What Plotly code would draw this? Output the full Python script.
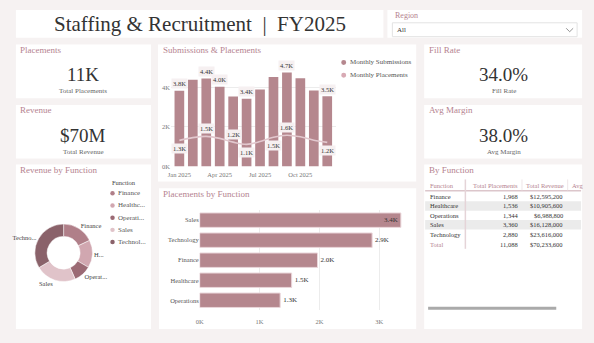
import plotly.graph_objects as go

W, H = 594, 343
FONT = "Liberation Serif"
PINK = "#b5838f"
DARK = "#333333"
GREY = "#666666"
BAR = "#b5878e"

# ---------------- data ----------------
months = ["Jan 2025", "Feb 2025", "Mar 2025", "Apr 2025", "May 2025", "Jun 2025",
          "Jul 2025", "Aug 2025", "Sep 2025", "Oct 2025", "Nov 2025", "Dec 2025"]
submissions = [3820, 4380, 4440, 4020, 3530, 3420, 3880, 4520, 4740, 4450, 3830, 3540]
placements_monthly = [1320, 1460, 1520, 1420, 1230, 1120, 1260, 1480, 1580, 1500, 1330, 1220]
sub_label_months = ["Jan 2025", "Mar 2025", "Apr 2025", "Jun 2025", "Sep 2025", "Dec 2025"]
plc_label_months = ["Jan 2025", "Mar 2025", "May 2025", "Jun 2025", "Aug 2025", "Sep 2025", "Dec 2025"]
plc_label_side = [-1, 1, 1, -1, -1, 1, -1]
month_ticks = ["Jan 2025", "Apr 2025", "Jul 2025", "Oct 2025"]

functions = ["Finance", "Healthcare", "Operations", "Sales", "Technology"]
fn_placements = [1968, 1536, 1344, 3360, 2880]
fn_revenue = [12595200, 10905600, 6988800, 16128000, 23616000]
pie_short = ["Finance", "H...", "Operat...", "Sales", "Techno..."]
legend_short = ["Finance", "Healthc...", "Operati...", "Sales", "Technol..."]
pie_colors = ["#b07f89", "#d1a7b0", "#9b6a74", "#e0c3c9", "#8a626a"]

bar_order = ["Sales", "Technology", "Finance", "Healthcare", "Operations"]

fill_rate = 0.34
avg_margin = 0.38


def fx(x):
    return x / W


def fy(y):
    return 1 - y / H


fig = go.Figure()

# ---------------- combo chart ----------------
fig.add_trace(go.Bar(x=months, y=submissions, marker=dict(color=BAR, line=dict(width=0)),
                     xaxis="x", yaxis="y", showlegend=False, hoverinfo="x+y"))
fig.add_trace(go.Scatter(x=months, y=placements_monthly, mode="lines",
                         line=dict(color="#e2c8ce", width=1.6, shape="spline"),
                         xaxis="x", yaxis="y", showlegend=False))

# ---------------- horizontal bar ----------------
hb_vals = [fn_placements[functions.index(f)] for f in bar_order]
hb_text = [f"{v/1000:.1f}K" for v in hb_vals]
fig.add_trace(go.Bar(y=bar_order, x=hb_vals, orientation="h",
                     marker=dict(color=BAR, line=dict(color="#ead6da", width=1)),
                     text=hb_text,
                     textposition=["inside", "outside", "outside", "outside", "outside"],
                     insidetextanchor="end",
                     textfont=dict(family=FONT, size=7, color=DARK),
                     cliponaxis=False,
                     xaxis="x2", yaxis="y2", showlegend=False))

# ---------------- donut ----------------
cx, cy, r = 60, 255, 29
fig.add_trace(go.Pie(labels=functions, values=fn_revenue, text=pie_short,
                     textinfo="text", textposition="outside",
                     textfont=dict(family=FONT, size=6.5, color="#444"),
                     hole=0.57, sort=False, direction="clockwise", rotation=0,
                     marker=dict(colors=pie_colors, line=dict(color="white", width=0.5)),
                     domain=dict(x=[fx(cx - r), fx(cx + r)], y=[fy(cy + r), fy(cy - r)]),
                     showlegend=False))

shapes = []
annotations = []


def rect(x0, y0, x1, y1, fill="white", line=None, lw=0, layer="below"):
    shapes.append(dict(type="rect", xref="paper", yref="paper",
                       x0=fx(x0), x1=fx(x1), y0=fy(y1), y1=fy(y0),
                       fillcolor=fill, line=dict(color=line or fill, width=lw), layer=layer))


def ann(x, y, text, size=7, color=DARK, xa="left", ya="middle", **kw):
    annotations.append(dict(x=fx(x), y=fy(y), xref="paper", yref="paper", text=text,
                            showarrow=False, xanchor=xa, yanchor=ya,
                            font=dict(family=FONT, size=size, color=color), **kw))


# panels
panels = [(12, 10, 382, 38), (386, 10, 582, 38), (12, 45, 148, 99), (12, 106, 148, 160),
          (155, 45, 415, 183), (423, 45, 582, 99), (423, 106, 582, 160),
          (12, 166, 148, 332), (156, 190, 415, 332), (423, 166, 582, 332)]
for p in panels:
    rect(*p)

# title
ann(197, 24, "Staffing & Recruitment  |  FY2025", size=21, color=DARK, xa="center")

# region slicer
ann(392, 16, "Region", size=8, color=PINK)
rect(391, 23, 577, 37, fill="white", line="#e3e3e3", lw=1)
ann(394, 30.5, "All", size=7, color=DARK)
shapes.append(dict(type="path", xref="paper", yref="paper",
                   path=f"M {fx(566)} {fy(28.5)} L {fx(569.5)} {fy(32)} L {fx(573)} {fy(28.5)}",
                   line=dict(color="#777", width=0.8)))

# KPI cards
total_pl = sum(fn_placements)
total_rev = sum(fn_revenue)
ann(14, 50, "Placements", size=9, color=PINK)
ann(80, 75.5, f"{round(total_pl/1000)}K", size=19, color=DARK, xa="center")
ann(80, 92, "Total Placements", size=7, color=GREY, xa="center")
ann(14, 111, "Revenue", size=9, color=PINK)
ann(80, 136.5, f"${round(total_rev/1e6)}M", size=19, color=DARK, xa="center")
ann(80, 153, "Total Revenue", size=7, color=GREY, xa="center")
ann(426, 50, "Fill Rate", size=9, color=PINK)
ann(503, 75.5, f"{fill_rate*100:.1f}%", size=19, color=DARK, xa="center")
ann(503, 92, "Fill Rate", size=7, color=GREY, xa="center")
ann(426, 111, "Avg Margin", size=9, color=PINK)
ann(503, 136.5, f"{avg_margin*100:.1f}%", size=19, color=DARK, xa="center")
ann(503, 153, "Avg Margin", size=7, color=GREY, xa="center")

# chart titles
ann(158, 50, "Submissions & Placements", size=9, color=PINK)
ann(158, 196, "Placements by Function", size=9, color=PINK)
ann(14, 172, "Revenue by Function", size=9, color=PINK)
ann(426, 172, "By Function", size=9, color=PINK)

# combo legend
for i, (name, col) in enumerate([("Monthly Submissions", BAR), ("Monthly Placements", "#d8aab4")]):
    yy = 63 + 13 * i
    shapes.append(dict(type="circle", xref="paper", yref="paper",
                       x0=fx(339.5), x1=fx(344.5), y0=fy(yy + 2.5), y1=fy(yy - 2.5),
                       fillcolor=col, line=dict(width=0)))
    ann(346, yy, name, size=7, color="#555")

# combo data labels
for m in sub_label_months:
    v = submissions[months.index(m)]
    annotations.append(dict(x=m, y=v, xref="x", yref="y", text=f"{v/1000:.1f}K",
                            showarrow=False, yshift=7, xanchor="center", yanchor="middle",
                            bgcolor="#f6f0f1", borderpad=1,
                            font=dict(family=FONT, size=6.5, color=DARK)))
for m, side in zip(plc_label_months, plc_label_side):
    v = placements_monthly[months.index(m)]
    annotations.append(dict(x=m, y=v, xref="x", yref="y", text=f"{v/1000:.1f}K",
                            showarrow=False, yshift=8 * side, xanchor="center", yanchor="middle",
                            bgcolor="#f6f0f1", borderpad=1,
                            font=dict(family=FONT, size=6.5, color=DARK)))

# donut legend
ann(107, 184, "Function", size=6.5, color="#444")
for i, (lab, col) in enumerate(zip(legend_short, pie_colors)):
    yy = 195 + 12.3 * i
    shapes.append(dict(type="circle", xref="paper", yref="paper",
                       x0=fx(107), x1=fx(111.5), y0=fy(yy + 2.25), y1=fy(yy - 2.25),
                       fillcolor=col, line=dict(width=0)))
    ann(112.5, yy, lab, size=7, color="#555")

# table
ann(427, 187, "Function", size=6.5, color=PINK)
ann(520, 187, "Total Placements", size=6.5, color=PINK, xa="right")
ann(566, 187, "Total Revenue", size=6.5, color=PINK, xa="right")
ann(570, 187, "Avg", size=6.5, color=PINK)
row_y = [198.3, 207.8, 217.3, 226.8, 236.5, 246.2]
for i, yy in enumerate(row_y[:5]):
    if i % 2 == 1:
        rect(424, yy - 4.8, 581, yy + 4.8, fill="#ebebeb")
for i, f in enumerate(functions):
    yy = row_y[i]
    ann(427, yy, f, size=6.5, color=DARK)
    ann(519, yy, f"{fn_placements[i]:,}", size=6.5, color=DARK, xa="right")
    ann(565, yy, f"${fn_revenue[i]:,}", size=6.5, color=DARK, xa="right")
ann(427, row_y[5], "Total", size=6.5, color=PINK)
ann(519, row_y[5], f"{total_pl:,}", size=6.5, color=DARK, xa="right")
ann(565, row_y[5], f"${total_rev:,}", size=6.5, color=DARK, xa="right")
shapes.append(dict(type="line", xref="paper", yref="paper", x0=fx(424), x1=fx(581),
                   y0=fy(192.5), y1=fy(192.5), line=dict(color="#dcc6cb", width=1.5)))
shapes.append(dict(type="line", xref="paper", yref="paper", x0=fx(464.5), x1=fx(464.5),
                   y0=fy(181), y1=fy(251), line=dict(color="#e5d4d8", width=1.5)))
for xx in (521.5, 567.5):
    shapes.append(dict(type="line", xref="paper", yref="paper", x0=fx(xx), x1=fx(xx),
                       y0=fy(181), y1=fy(192), line=dict(color="#eee6e8", width=1)))
rect(427, 309.5, 556, 312.5, fill="#aaaaaa")

axis_font = dict(family=FONT, size=6.5, color="#777")
fig.update_layout(
    width=W, height=H, margin=dict(l=0, r=0, t=0, b=0),
    paper_bgcolor="#f6f2f2", plot_bgcolor="rgba(0,0,0,0)",
    bargap=0.28, showlegend=False,
    xaxis=dict(domain=[fx(168), fx(334)], type="category", categoryarray=months,
               tickvals=month_ticks, ticktext=month_ticks, tickfont=axis_font,
               showgrid=False, zeroline=False, showline=False, ticks="",
               ticklabelstandoff=3),
    yaxis=dict(domain=[fy(168), fy(68)], range=[0, 5000], tickvals=[0, 2000, 4000],
               ticktext=["0K", "2K", "4K"], tickfont=axis_font, showgrid=True,
               gridcolor="#ececec", gridwidth=1, zeroline=False, ticks=""),
    xaxis2=dict(domain=[fx(197), fx(408)], range=[0, 3500], tickvals=[0, 1000, 2000, 3000],
                ticktext=["0K", "1K", "2K", "3K"], tickfont=axis_font, showgrid=True,
                gridcolor="#ececec", zeroline=False, anchor="y2", ticklabelstandoff=6),
    yaxis2=dict(domain=[fy(313), fy(212)], type="category", categoryarray=bar_order,
                autorange="reversed", tickfont=dict(family=FONT, size=6.5, color="#555"),
                anchor="x2", showgrid=False, zeroline=False),
    shapes=shapes, annotations=annotations,
)

fig.write_html("out.html")
